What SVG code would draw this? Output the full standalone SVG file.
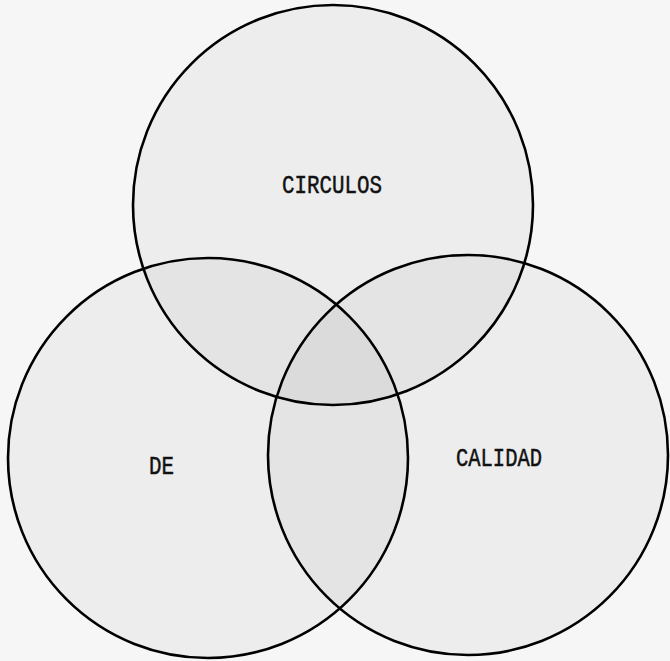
<svg xmlns="http://www.w3.org/2000/svg" width="670" height="661" viewBox="0 0 670 661">
  <style>
    .ring { fill: #000; fill-opacity: 0.035; stroke: #000; stroke-width: 2.6; }
    .lbl { font-family: "Liberation Mono", "DejaVu Sans Mono", monospace; font-size: 26px; fill: #111; stroke: #111; stroke-width: 0.5; }
  </style>
  <rect x="0" y="0" width="670" height="661" fill="#f6f6f6"/>
  <g id="circulos">
    <circle class="ring" cx="333" cy="205" r="200"/>
    <text class="lbl" x="282" y="193" textLength="100" lengthAdjust="spacingAndGlyphs">CIRCULOS</text>
  </g>
  <g id="de">
    <circle class="ring" cx="208" cy="458" r="200"/>
    <text class="lbl" x="149" y="474" textLength="25" lengthAdjust="spacingAndGlyphs">DE</text>
  </g>
  <g id="calidad">
    <circle class="ring" cx="468" cy="455" r="200"/>
    <text class="lbl" x="456" y="466" textLength="86" lengthAdjust="spacingAndGlyphs">CALIDAD</text>
  </g>
  <g id="connectors"/>
</svg>
